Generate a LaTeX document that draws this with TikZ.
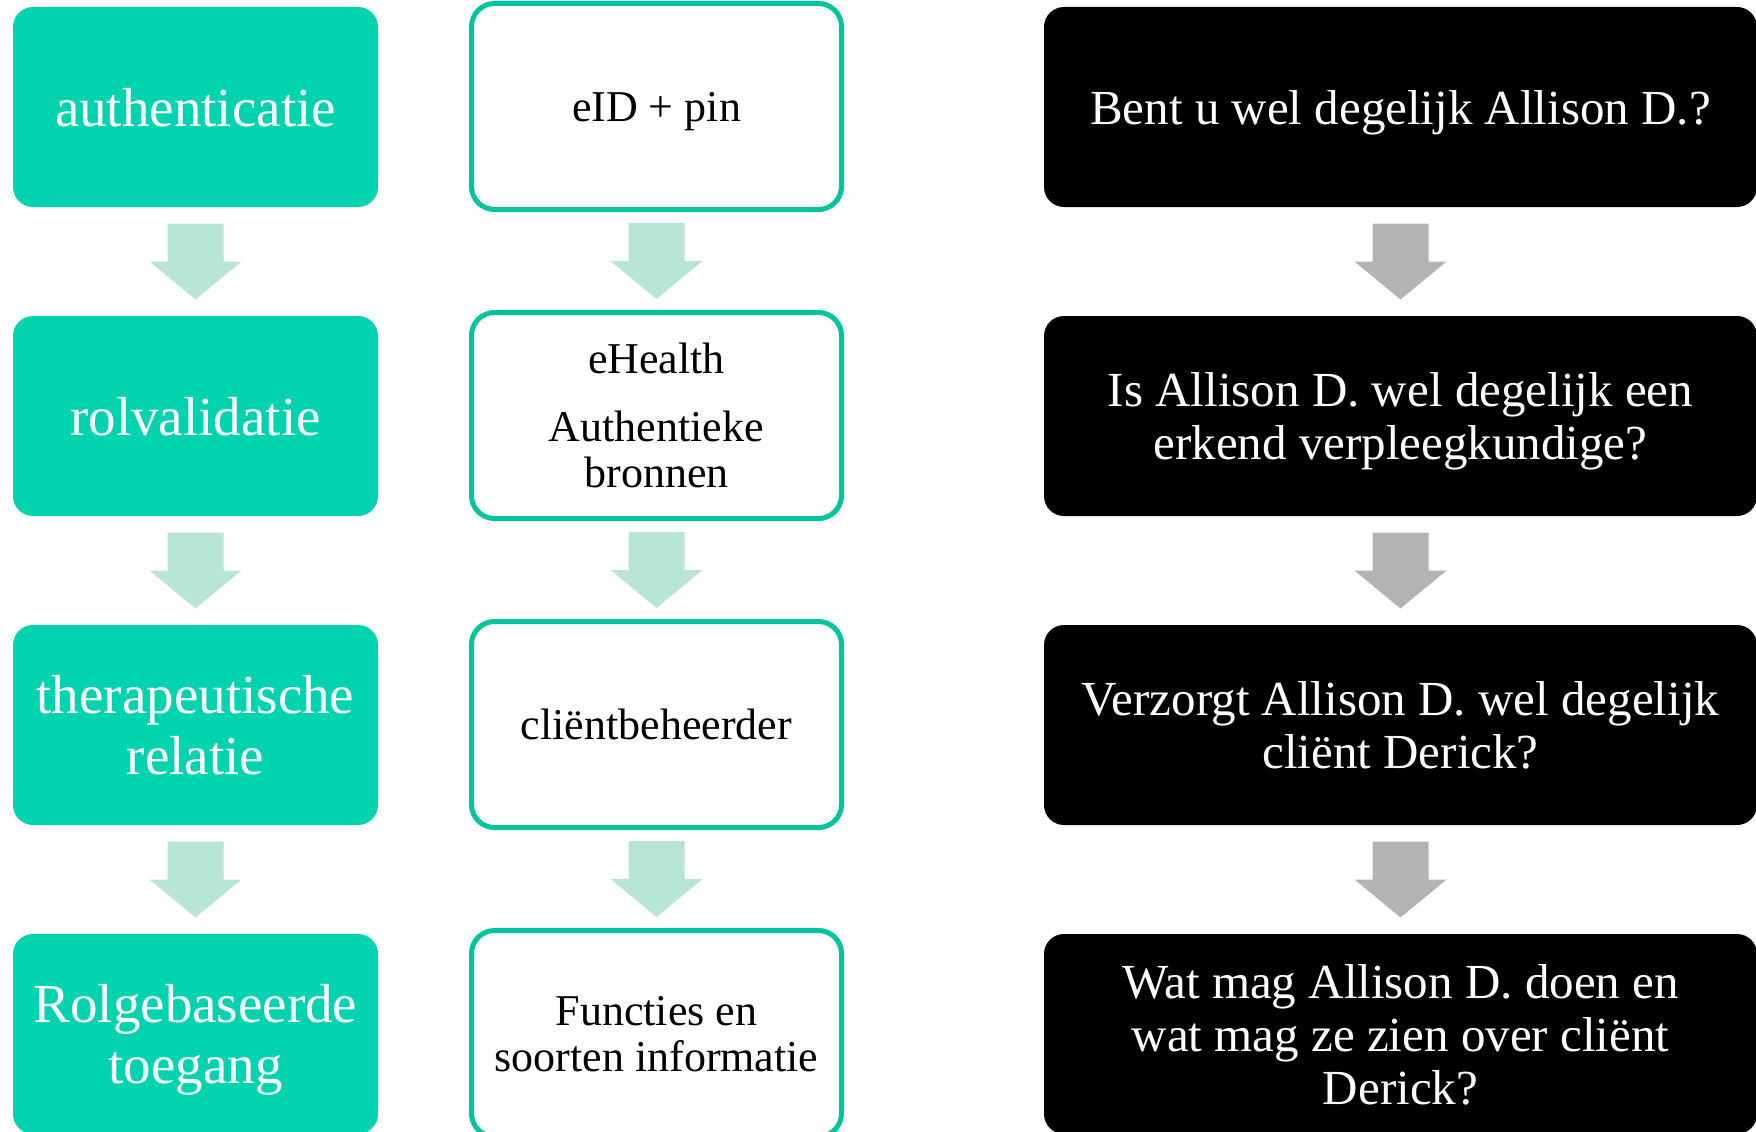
\documentclass[tikz,border=0pt]{standalone}
\usepackage{fontspec}
\setmainfont{Liberation Serif}
\usetikzlibrary{calc}
\definecolor{tealfill}{HTML}{00D3AD}
\definecolor{tealline}{HTML}{00C49C}
\definecolor{arrowgreen}{HTML}{B8E6D6}
\definecolor{arrowgray}{HTML}{B3B3B3}
\tikzset{
 lbox/.style={rectangle, rounded corners=20pt, fill=tealfill, draw=none, minimum width=365pt, minimum height=200pt, inner sep=0pt, text=white, align=center, text depth=-4pt, font=\fontsize{55}{61}\selectfont},
 mbox/.style={rectangle, rounded corners=23pt, fill=white, draw=tealline, line width=5pt, minimum width=370pt, minimum height=206pt, inner sep=0pt, text=black, align=center, text depth=-4pt, font=\fontsize{44}{46}\selectfont},
 rbox/.style={rectangle, rounded corners=20pt, fill=black, draw=none, minimum width=713pt, minimum height=200pt, inner sep=0pt, text=white, align=center, text depth=-4pt, font=\fontsize{49}{53}\selectfont},
}
\newcommand\flowarrow[3]{\fill[#3] ($(#1.south)!0.5!(#2.north)$) ++(-28,38) -- ++(56,0) -- ++(0,-38) -- ++(18,0) -- ++(-46,-38) -- ++(-46,38) -- ++(18,0) -- cycle;}
\begin{document}
\begin{tikzpicture}[x=1pt,y=1pt]
\useasboundingbox (0,0) rectangle (1756,-1132);
\clip (0,0) rectangle (1756,-1132);
\fill[white] (0,0) rectangle (1756,-1132);
% left column
\node[lbox] (l1) at (195.5,-107) {authenticatie};
\node[lbox] (l2) at (195.5,-416) {rolvalidatie};
\node[lbox] (l3) at (195.5,-725) {therapeutische\\relatie};
\node[lbox] (l4) at (195.5,-1034) {Rolgebaseerde\\toegang};
% middle column
\node[mbox] (m1) at (656.5,-106.5) {eID + pin};
\node[mbox] (m2) at (656.5,-415.5) {eHealth\\[22pt]Authentieke\\bronnen};
\node[mbox] (m3) at (656.5,-724.5) {cliëntbeheerder};
\node[mbox] (m4) at (656.5,-1033.5) {Functies en\\soorten informatie};
% right column
\node[rbox] (r1) at (1400.5,-107) {Bent u wel degelijk Allison D.?};
\node[rbox] (r2) at (1400.5,-416) {Is Allison D. wel degelijk een\\erkend verpleegkundige?};
\node[rbox] (r3) at (1400.5,-725) {Verzorgt Allison D. wel degelijk\\cliënt Derick?};
\node[rbox] (r4) at (1400.5,-1034) {Wat mag Allison D. doen en\\wat mag ze zien over cliënt\\Derick?};
% arrows
\flowarrow{l1}{l2}{arrowgreen}
\flowarrow{l2}{l3}{arrowgreen}
\flowarrow{l3}{l4}{arrowgreen}
\flowarrow{m1}{m2}{arrowgreen}
\flowarrow{m2}{m3}{arrowgreen}
\flowarrow{m3}{m4}{arrowgreen}
\flowarrow{r1}{r2}{arrowgray}
\flowarrow{r2}{r3}{arrowgray}
\flowarrow{r3}{r4}{arrowgray}
\end{tikzpicture}
\end{document}
